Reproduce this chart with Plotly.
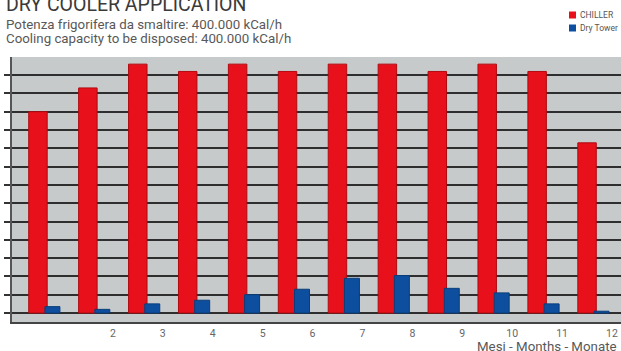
import plotly.graph_objects as go

months = [1, 2, 3, 4, 5, 6, 7, 8, 9, 10, 11, 12]
tick_labels = ["", "2", "3", "4", "5", "6", "7", "8", "9", "10", "11", "12"]
chiller = [11.0, 12.3, 13.6, 13.2, 13.6, 13.2, 13.6, 13.6, 13.2, 13.6, 13.2, 9.3]
dry_tower = [0.35, 0.2, 0.5, 0.7, 1.0, 1.3, 1.9, 2.05, 1.35, 1.1, 0.5, 0.1]
series_names = ["CHILLER", "Dry Tower"]
series_colors = ["#e8101a", "#0d4f9e"]

BASE = 0.49
W, H = 621, 351
L, R, T, B = 12, 0, 57, 29
ph = H - T - B
def py(p):
    return (H - B - p) / ph
def px(p):
    return (p - L) / (W - L - R)

fig = go.Figure()
fig.add_trace(go.Bar(x=months, y=chiller, base=BASE, width=0.37, offset=-0.185, name=series_names[0],
                     marker=dict(color=series_colors[0], line=dict(width=1, color="#b00a10")),
                     showlegend=False))
fig.add_trace(go.Bar(x=months, y=dry_tower, base=BASE, width=0.3, offset=0.14, name=series_names[1],
                     marker=dict(color=series_colors[1], line=dict(width=1, color="#0a3d7a")),
                     showlegend=False))

annotations = [
    dict(text="DRY COOLER APPLICATION", x=px(4), y=py(4), xref="paper", yref="paper",
         xanchor="left", yanchor="middle", showarrow=False,
         font=dict(size=19.5, color="#3a3a3a")),
    dict(text="Potenza frigorifera da smaltire: 400.000 kCal/h", x=px(4), y=py(24),
         xref="paper", yref="paper", xanchor="left", yanchor="middle", showarrow=False,
         font=dict(size=13.3, color="#585858")),
    dict(text="Cooling capacity to be disposed: 400.000 kCal/h", x=px(4), y=py(38),
         xref="paper", yref="paper", xanchor="left", yanchor="middle", showarrow=False,
         font=dict(size=13.3, color="#585858")),
    dict(text="Mesi - Months - Monate", x=px(619), y=py(346),
         xref="paper", yref="paper", xanchor="right", yanchor="middle", showarrow=False,
         font=dict(size=13.3, color="#585858")),
]
shapes = []
for i, (nm, col) in enumerate(zip(series_names, series_colors)):
    yc = 15 + 13 * i
    annotations.append(dict(text=nm, x=px(578), y=py(yc), xref="paper", yref="paper",
                            xanchor="left", yanchor="middle", showarrow=False,
                            font=dict(size=8.5, color="#555555")))
    shapes.append(dict(type="rect", xref="paper", yref="paper",
                       x0=px(569), x1=px(576), y0=py(yc + 3.5), y1=py(yc - 3.5),
                       fillcolor=col, line=dict(width=0)))

fig.update_layout(
    width=W, height=H,
    margin=dict(l=L, r=R, t=T, b=B),
    paper_bgcolor="white", plot_bgcolor="#c7cacb",
    barmode="overlay",
    font=dict(family="Roboto", color="#555555"),
    showlegend=False,
    xaxis=dict(range=[0.48, 12.68], tickvals=[m + 0.5 for m in months], ticktext=tick_labels,
               showgrid=False, zeroline=False, showline=True, linecolor="#444444", linewidth=2,
               ticks="", ticklen=0,
               tickfont=dict(size=10.5, color="#666666")),
    yaxis=dict(range=[0, 14.48], tick0=BASE, dtick=1, showticklabels=False,
               showgrid=True, gridcolor="#2e2e2e", gridwidth=2, zeroline=False,
               showline=True, linecolor="#555555", linewidth=2,
               ticks="outside", ticklen=6, tickwidth=2, tickcolor="#333333"),
    annotations=annotations,
    shapes=shapes,
)

fig.write_html("out.html")
